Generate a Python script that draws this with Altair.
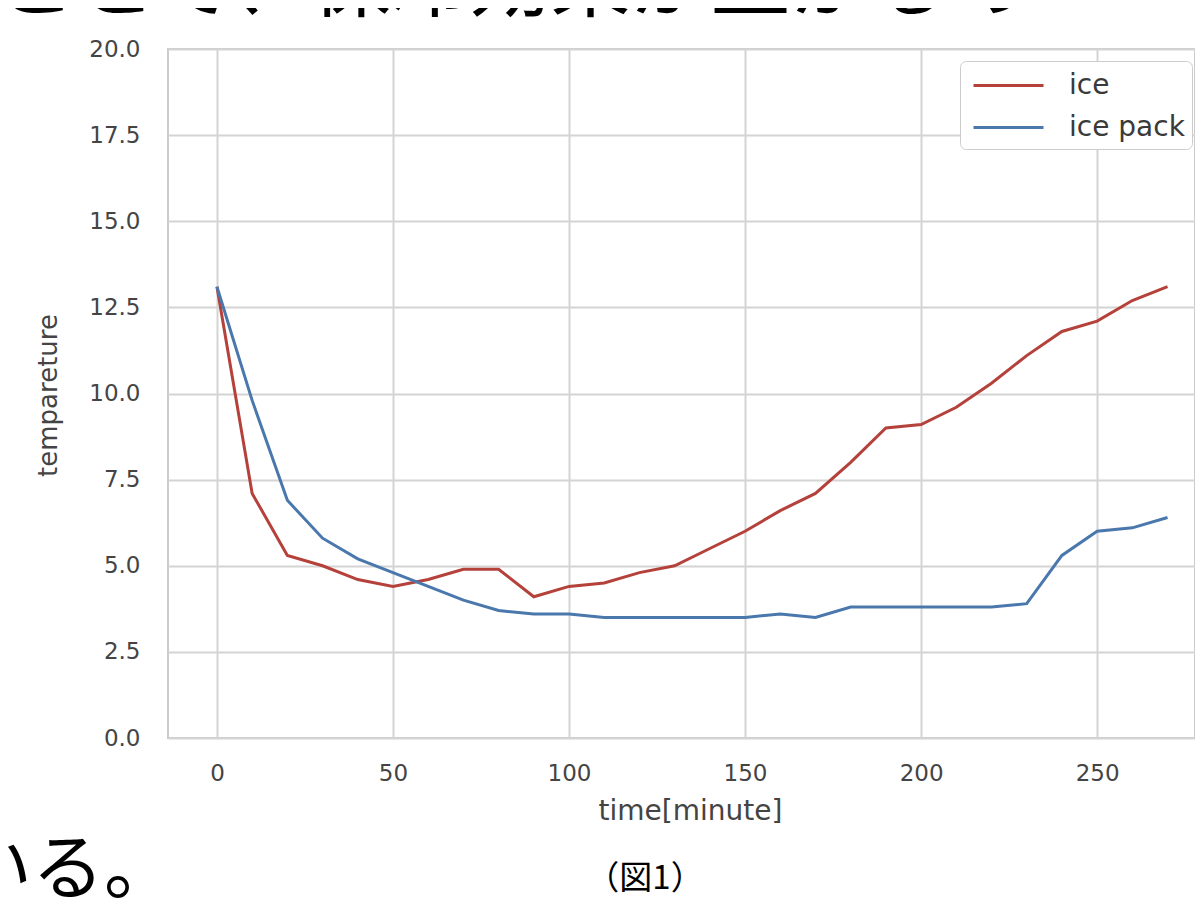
import altair as alt
import pandas as pd

# ---- data ----
minutes = list(range(0, 280, 10))
ice = [13.1, 7.1, 5.3, 5.0, 4.6, 4.4, 4.6, 4.9, 4.9, 4.1, 4.4, 4.5, 4.8, 5.0,
       5.5, 6.0, 6.6, 7.1, 8.0, 9.0, 9.1, 9.6, 10.3, 11.1, 11.8, 12.1, 12.7, 13.1]
ice_pack = [13.1, 9.8, 6.9, 5.8, 5.2, 4.8, 4.4, 4.0, 3.7, 3.6, 3.6, 3.5, 3.5, 3.5,
            3.5, 3.5, 3.6, 3.5, 3.8, 3.8, 3.8, 3.8, 3.8, 3.9, 5.3, 6.0, 6.1, 6.4]
series_names = ["ice", "ice pack"]
series_colors = ["#b5413b", "#4a78ad"]
x_ticks = [0, 50, 100, 150, 200, 250]
y_ticks = [0, 2.5, 5, 7.5, 10, 12.5, 15, 17.5, 20]
top_text = ["ことで、保冷効果が上がるの"]
bottom_text = ["いる。"]
caption = ["（図1）"]

df = pd.DataFrame({
    "time": minutes + minutes,
    "temp": ice + ice_pack,
    "series": [series_names[0]] * len(ice) + [series_names[1]] * len(ice_pack),
})

lines = alt.Chart(df).mark_line(strokeWidth=3).encode(
    x=alt.X("time:Q",
            scale=alt.Scale(domain=[-13.9, 277.8], nice=False, zero=False),
            axis=alt.Axis(values=x_ticks, title="time[minute]", labelPadding=24,
                          titleFontSize=28, titleX=522, titleY=81,
                          titleAlign="center", titleBaseline="alphabetic")),
    y=alt.Y("temp:Q",
            scale=alt.Scale(domain=[0, 20], nice=False),
            axis=alt.Axis(values=y_ticks, format=".1f", title="tempareture",
                          labelPadding=28, titleFontSize=26, titleAngle=270,
                          titleX=-112, titleY=346, titleAlign="center",
                          titleBaseline="alphabetic")),
    color=alt.Color("series:N",
                    scale=alt.Scale(domain=series_names, range=series_colors),
                    legend=alt.Legend(title=None, orient="none", legendX=792, legendY=12,
                                      symbolType="M-0.6875,0L3.6875,0", symbolSize=1024,
                                      symbolStrokeWidth=3, labelFontSize=28,
                                      labelFont="DejaVu Sans", labelColor="#3a3a3a",
                                      labelOffset=67, rowPadding=10, padding=7,
                                      cornerRadius=6, strokeColor="#cccccc",
                                      fillColor="white")),
)

top = alt.Chart(pd.DataFrame({"t": top_text})).mark_text(
    font="Noto Sans CJK JP", fontSize=80, align="left", baseline="alphabetic", color="black"
).encode(text="t:N", x=alt.value(-172), y=alt.value(-39))

bottom = alt.Chart(pd.DataFrame({"t": bottom_text})).mark_text(
    font="Noto Sans CJK JP", fontSize=72, align="left", baseline="alphabetic", color="black"
).encode(text="t:N", x=alt.value(-208), y=alt.value(844))

cap = alt.Chart(pd.DataFrame({"t": caption})).mark_text(
    font="Noto Sans CJK JP", fontSize=33, align="center", baseline="alphabetic", color="black"
).encode(text="t:N", x=alt.value(477), y=alt.value(840))

chart = alt.layer(lines, top, bottom, cap).properties(
    width=1027, height=689,
    autosize=alt.AutoSizeParams(type="none"),
    padding={"left": 160, "top": 41, "right": 0, "bottom": 163},
    background="white",
).configure_view(
    stroke="#cccccc", strokeWidth=2
).configure_axis(
    grid=True, gridColor="#d4d4d4", gridWidth=2, domain=False, ticks=False, tickSize=0,
    labelFont="DejaVu Sans", labelFontSize=23, labelColor="#444444",
    titleFont="DejaVu Sans", titleColor="#444444", titleFontWeight="normal",
)

chart.save("out.html", embed_options={"renderer": "svg", "actions": False})
